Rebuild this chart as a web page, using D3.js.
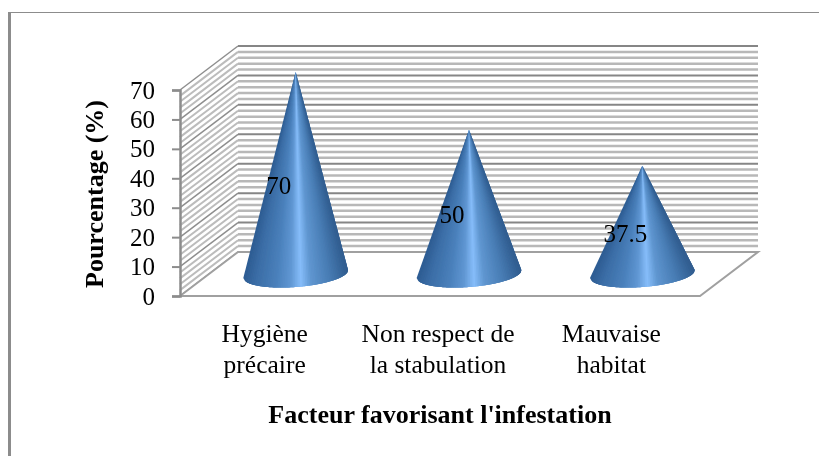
<!DOCTYPE html>
<html>
<head>
<meta charset="utf-8">
<script src="https://cdn.jsdelivr.net/npm/d3@7"></script>
<style>
    html, body { margin: 0; padding: 0; background: #ffffff; }
    svg { display: block; }
    text { font-family: "Liberation Serif", serif; fill: #000000; }
</style>
</head>
<body>
<div id="chart"></div>
<script>
const categories = [['Hygiène', 'précaire'], ['Non respect de', 'la stabulation'], ['Mauvaise', 'habitat']];
const values = [70, 50, 37.5];
const yTicks = [0, 10, 20, 30, 40, 50, 60, 70];
const minorTicks = [2, 4, 6, 8, 12, 14, 16, 18, 22, 24, 26, 28, 32, 34, 36, 38, 42, 44, 46, 48, 52, 54, 56, 58, 62, 64, 66, 68];

const width = 819;
const height = 456;
const depth = { x: 58, y: -44 };

const svg = d3.select('#chart')
    .append('svg')
    .attr('width', width)
    .attr('height', height);

const defs = svg.append('defs');
defs.append('filter')
    .attr('id', 'soft')
    .attr('x', '-5%').attr('y', '-5%').attr('width', '110%').attr('height', '110%')
    .append('feGaussianBlur').attr('stdDeviation', 0.4);
defs.append('filter')
    .attr('id', 'softText')
    .attr('x', '-5%').attr('y', '-5%').attr('width', '110%').attr('height', '110%')
    .append('feGaussianBlur').attr('stdDeviation', 0.3);

// Scales
const xScale = d3.scaleBand()
    .domain(categories.map((d, i) => i))
    .range([180, 700]);

const yScale = d3.scaleLinear()
    .domain([0, 70])
    .range([296, 90]);

// Cones stand half way into the floor, so they get their own height scale
const coneY = d3.scaleLinear()
    .domain([0, 70])
    .range([274, 72]);

// Outer frame
svg.append('rect').attr('x', 8).attr('y', 12).attr('width', 3).attr('height', height - 12).attr('fill', '#8c8c8c');
svg.append('rect').attr('x', 8).attr('y', 12).attr('width', width - 8).attr('height', 1).attr('fill', '#8c8c8c');

const plot = svg.append('g').attr('filter', 'url(#soft)');

// Minor grid on back wall and side wall
plot.selectAll('.minor-back')
    .data(minorTicks)
    .enter()
    .append('line')
    .attr('x1', xScale.range()[0] + depth.x)
    .attr('x2', xScale.range()[1] + depth.x)
    .attr('y1', d => yScale(d) + depth.y)
    .attr('y2', d => yScale(d) + depth.y)
    .attr('stroke', '#b8b8b8')
    .attr('stroke-width', 2.5);

plot.selectAll('.minor-side')
    .data(minorTicks)
    .enter()
    .append('line')
    .attr('x1', xScale.range()[0])
    .attr('x2', xScale.range()[0] + depth.x)
    .attr('y1', d => yScale(d))
    .attr('y2', d => yScale(d) + depth.y)
    .attr('stroke', '#bcbcbc')
    .attr('stroke-width', 2);

// Major grid
plot.selectAll('.major-back')
    .data(yTicks)
    .enter()
    .append('line')
    .attr('x1', xScale.range()[0] + depth.x)
    .attr('x2', xScale.range()[1] + depth.x)
    .attr('y1', d => yScale(d) + depth.y)
    .attr('y2', d => yScale(d) + depth.y)
    .attr('stroke', '#868686')
    .attr('stroke-width', 2);

plot.selectAll('.major-side')
    .data(yTicks)
    .enter()
    .append('line')
    .attr('x1', xScale.range()[0])
    .attr('x2', xScale.range()[0] + depth.x)
    .attr('y1', d => yScale(d))
    .attr('y2', d => yScale(d) + depth.y)
    .attr('stroke', '#8e8e8e')
    .attr('stroke-width', 1.5);

// Floor
const floorCorners = [
    [xScale.range()[0], yScale(0)],
    [xScale.range()[0] + depth.x, yScale(0) + depth.y],
    [xScale.range()[1] + depth.x, yScale(0) + depth.y],
    [xScale.range()[1], yScale(0)]
];
plot.append('path')
    .attr('d', d3.line()(floorCorners) + 'Z')
    .attr('fill', '#ffffff')
    .attr('stroke', '#a0a0a0')
    .attr('stroke-width', 2);

// Axis
const yAxis = d3.axisLeft(yScale)
    .tickValues(yTicks)
    .tickSize(8)
    .tickPadding(17);
const axisG = svg.append('g')
    .attr('transform', `translate(${xScale.range()[0]}, 0)`)
    .call(yAxis);
axisG.select('.domain').attr('stroke', '#8c8c8c').attr('stroke-width', 2.5);
axisG.selectAll('line').attr('stroke', '#8c8c8c').attr('stroke-width', 2);
axisG.selectAll('text')
    .style('font-size', '25px')
    .style('font-family', '"Liberation Serif", serif')
    .attr('fill', '#000000')
    .attr('filter', 'url(#softText)');

// Cones, drawn as thin wedges from apex to the tilted base ellipse
const shade = d3.scaleLinear()
    .domain([0, 0.1, 0.3, 0.44, 0.54, 0.64, 0.82, 1])
    .range(['#2d5c92', '#3a6ca5', '#4a80bb', '#5f96d2', '#86bdfa', '#5f96d0', '#487cb4', '#2f5c8e']);

const coneA = 52.5;
const coneB = 13;
const tilt = -4.4 * Math.PI / 180;
const wedgeCount = 60;

values.forEach((v, i) => {
    const cx = xScale(i) + xScale.bandwidth() / 2 + depth.x / 2;
    const cy = coneY(0);
    const apex = [cx, coneY(v)];
    // t runs evenly across the width of the base, left to right, along its front edge
    const basePoint = t => {
        const ex = coneA * (2 * t - 1);
        const ey = coneB * Math.sqrt(Math.max(0, 1 - (2 * t - 1) * (2 * t - 1)));
        return [cx + ex * Math.cos(tilt) - ey * Math.sin(tilt), cy + ex * Math.sin(tilt) + ey * Math.cos(tilt)];
    };
    const cone = plot.append('g').attr('class', 'cone');
    d3.range(wedgeCount).forEach(k => {
        const t0 = k / wedgeCount;
        // each wedge runs on under the next one so no seams show
        const t1 = Math.min(1, (k + 3) / wedgeCount);
        const steps = d3.range(5).map(s => basePoint(t0 + (t1 - t0) * s / 4));
        cone.append('path')
            .attr('d', d3.line()([apex, ...steps]) + 'Z')
            .attr('fill', shade((k + 0.5) / wedgeCount));
    });
});

// Value labels
svg.selectAll('.value-label')
    .data(values)
    .enter()
    .append('text')
    .attr('class', 'value-label')
    .attr('x', (d, i) => xScale(i) + xScale.bandwidth() / 2 + 12)
    .attr('y', d => yScale(d / 2) - 8)
    .attr('dy', '0.35em')
    .attr('text-anchor', 'middle')
    .attr('filter', 'url(#softText)')
    .style('font-size', '25px')
    .text(d => d);

// Category labels
categories.forEach((lines, i) => {
    lines.forEach((line, k) => {
        svg.append('text')
            .attr('x', xScale(i) + xScale.bandwidth() / 2 - 2)
            .attr('y', 342 + k * 31)
            .attr('text-anchor', 'middle')
            .attr('filter', 'url(#softText)')
            .style('font-size', '25.5px')
            .text(line);
    });
});

// Axis titles
svg.append('text')
    .attr('transform', 'translate(103, 194) rotate(-90)')
    .attr('text-anchor', 'middle')
    .attr('filter', 'url(#softText)')
    .style('font-size', '26px')
    .style('font-weight', 'bold')
    .text('Pourcentage (%)');

svg.append('text')
    .attr('x', 440)
    .attr('y', 423)
    .attr('text-anchor', 'middle')
    .attr('filter', 'url(#softText)')
    .style('font-size', '26px')
    .style('font-weight', 'bold')
    .text("Facteur favorisant l'infestation");
</script>
</body>
</html>
